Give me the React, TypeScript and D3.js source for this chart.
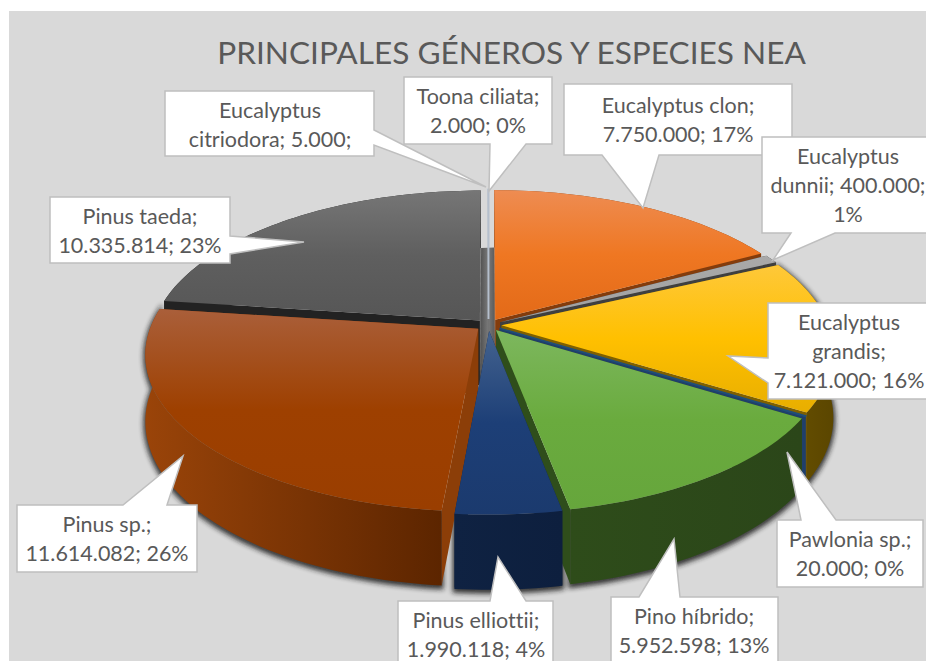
import * as d3 from 'd3';

// values as printed in the data labels, clockwise from 12 o'clock
const species = ['Eucalyptus clon', 'Eucalyptus dunnii', 'Eucalyptus grandis', 'Pawlonia sp.', 'Pino híbrido', 'Pinus elliottii', 'Pinus sp.', 'Pinus taeda', 'Eucalyptus citriodora', 'Toona ciliata'];
const hectares = [7750000, 400000, 7121000, 20000, 5952598, 1990118, 11614082, 10335814, 5000, 2000];

const topLight = ['#EE8C52', '#A9A9A9', '#FEC83A', '#1F4E79', '#7DB75E', '#44638F', '#AA5F3A', '#767676', '#B5BFCC', '#A9B6C8'];
const topBase = ['#EF7722', '#A5A5A5', '#FFC000', '#1F4E79', '#6AAB3E', '#1D3F77', '#9E4000', '#5F5F5F', '#B5BFCC', '#A9B6C8'];
const topDark = ['#E36A18', '#A0A0A0', '#E8AE00', '#1F4E79', '#66A63C', '#1B3A6E', '#9A3E00', '#565656', '#B5BFCC', '#A9B6C8'];
const rimLeft = ['#843C0C', '#3F3F3F', '#6A5200', '#1F3F6B', '#2E4C1A', '#0F2242', '#9A4409', '#222222', '#777777', '#777777'];
const rimRight = ['#843C0C', '#3F3F3F', '#5B4600', '#1F3F6B', '#2B4619', '#0D1F3E', '#5C2500', '#222222', '#777777', '#777777'];
const cutFace = ['#843C0C', '#3F3F3F', '#7F6000', '#1F3F6B', '#2F4E1B', '#0F2242', '#8C3E08', '#222222', '#666666', '#666666'];

const labelLines = [
  ['Eucalyptus clon;', '7.750.000; 17%'],
  ['Eucalyptus', 'dunnii; 400.000;', '1%'],
  ['Eucalyptus', 'grandis;', '7.121.000; 16%'],
  ['Pawlonia sp.;', '20.000; 0%'],
  ['Pino híbrido;', '5.952.598; 13%'],
  ['Pinus elliottii;', '1.990.118; 4%'],
  ['Pinus sp.;', '11.614.082; 26%'],
  ['Pinus taeda;', '10.335.814; 23%'],
  ['Eucalyptus', 'citriodora; 5.000;'],
  ['Toona ciliata;', '2.000; 0%'],
];

// callout boxes: box, side the pointer leaves from, pointer base and tip
type Callout = { x0: number; y0: number; x1: number; y1: number; side: string; base: number[]; tip: number[]; cx: number; firstLine: number };
const callouts: Callout[] = [
  { x0: 564, y0: 84, x1: 792, y1: 155, side: 'bottom', base: [602, 659], tip: [643, 208], cx: 678, firstLine: 113 },
  { x0: 762, y0: 137, x1: 932, y1: 233, side: 'bottom', base: [791, 835], tip: [773, 260], cx: 848, firstLine: 164 },
  { x0: 768, y0: 303, x1: 932, y1: 399, side: 'left', base: [358, 383], tip: [728, 356], cx: 849, firstLine: 330 },
  { x0: 777, y0: 520, x1: 923, y1: 587, side: 'top', base: [801, 836], tip: [787, 452], cx: 850, firstLine: 547 },
  { x0: 611, y0: 597, x1: 778, y1: 668, side: 'top', base: [639, 680], tip: [674, 539], cx: 694, firstLine: 624 },
  { x0: 398, y0: 601, x1: 553, y1: 668, side: 'top', base: [490, 526], tip: [498, 557], cx: 476, firstLine: 628 },
  { x0: 17, y0: 505, x1: 197, y1: 572, side: 'top', base: [123, 167], tip: [183, 456], cx: 107, firstLine: 532 },
  { x0: 50, y0: 197, x1: 230, y1: 263, side: 'right', base: [236, 254], tip: [304, 242], cx: 140, firstLine: 224 },
  { x0: 165, y0: 91, x1: 374, y1: 156, side: 'right', base: [130, 145], tip: [486, 187], cx: 270, firstLine: 118 },
  { x0: 404, y0: 77, x1: 552, y1: 144, side: 'bottom', base: [490, 526], tip: [489, 191], cx: 478, firstLine: 104 },
];

const width = 926;
const height = 661;
const fontFamily = 'Lato, sans-serif';
const textColor = '#595959';

const center = { x: 488.5, y: 325 };
const radiusX = 327;
const radiusY = 152;
const perspective = 0.16;
const explode = 0.04;
const thickness = 65;

const pie = d3.pie<number>().sort(null).startAngle(0).endAngle(2 * Math.PI);
const arcs = pie(hectares);

// ground plane -> screen, depth 0 is the top face, 1 the bottom face
function project(theta: number, r: number, mid: number, depth = 0): [number, number] {
  const u = explode * Math.sin(mid) + r * Math.sin(theta);
  const v = explode * Math.cos(mid) + r * Math.cos(theta);
  const s = 1 / (1 + perspective * v);
  return [
    center.x + radiusX * u * s,
    center.y - radiusY * v * s + depth * thickness * Math.pow(s, 0.8),
  ];
}

const line = d3.line();
const closed = (pts: [number, number][]) => line(pts) + 'Z';

function sweep(a0: number, a1: number) {
  const n = Math.max(2, Math.ceil(Math.abs(a1 - a0) * 40));
  return d3.range(n + 1).map(i => a0 + ((a1 - a0) * i) / n);
}

const slices = arcs.map((arc, i) => {
  const a0 = arc.startAngle;
  const a1 = arc.endAngle;
  const mid = (a0 + a1) / 2;
  const angles = sweep(a0, a1);
  const rimTop = angles.map(a => project(a, 1, mid));
  const rimBottom = angles.map(a => project(a, 1, mid, 1)).reverse();
  return {
    i,
    mid,
    tiny: arc.value < 30000,
    top: closed([project(0, 0, mid), ...rimTop]),
    rim: closed([...rimTop, ...rimBottom]),
    cutStart: closed([project(0, 0, mid), project(a0, 1, mid), project(a0, 1, mid, 1), project(0, 0, mid, 1)]),
    cutEnd: closed([project(0, 0, mid), project(a1, 1, mid), project(a1, 1, mid, 1), project(0, 0, mid, 1)]),
  };
});

// painter's order, far slices first
const drawOrder = d3.sort(slices, d => -Math.cos(d.mid));

// dark inner wall seen through the gap at the back of the pie
const clon = arcs[0];
const taeda = arcs[7];
const clonMid = (clon.startAngle + clon.endAngle) / 2;
const taedaMid = (taeda.startAngle + taeda.endAngle) / 2;
const gapPath = closed([
  project(0, 1, taedaMid, 1),
  project(0, 1, clonMid, 1),
  project(0, 0, clonMid, 1),
  project(0, 0, taedaMid, 1),
]);

function calloutPath(c: Callout) {
  const { x0, y0, x1, y1, base, tip } = c;
  const pts: [number, number][] = [[x0, y0]];
  if (c.side === 'top') pts.push([base[0], y0], [tip[0], tip[1]], [base[1], y0]);
  pts.push([x1, y0]);
  if (c.side === 'right') pts.push([x1, base[0]], [tip[0], tip[1]], [x1, base[1]]);
  pts.push([x1, y1]);
  if (c.side === 'bottom') pts.push([base[1], y1], [tip[0], tip[1]], [base[0], y1]);
  pts.push([x0, y1]);
  if (c.side === 'left') pts.push([x0, base[1]], [tip[0], tip[1]], [x0, base[0]]);
  return closed(pts);
}

export default function App() {
  return (
    <svg width={width} height={height} style={{ position: 'absolute', left: 0, top: 0, display: 'block', fontVariantLigatures: 'none' }}>
      <defs>
        {slices.map(s => (
          <linearGradient key={s.i} id={`top${s.i}`} x1="0" y1="0" x2="0" y2="1">
            <stop offset="0" stopColor={topLight[s.i]} />
            <stop offset="0.5" stopColor={topBase[s.i]} />
            <stop offset="1" stopColor={topDark[s.i]} />
          </linearGradient>
        ))}
        {slices.map(s => (
          <linearGradient key={s.i} id={`rim${s.i}`} x1="0" y1="0" x2="1" y2="0">
            <stop offset="0" stopColor={rimLeft[s.i]} />
            <stop offset="1" stopColor={rimRight[s.i]} />
          </linearGradient>
        ))}
        <linearGradient id="gap" x1="0" y1="0" x2="1" y2="0">
          <stop offset="0" stopColor="#4F4F4F" />
          <stop offset="0.55" stopColor="#7A7A7A" />
          <stop offset="1" stopColor="#585858" />
        </linearGradient>
        <filter id="soft" x="-10%" y="-10%" width="120%" height="120%">
          <feGaussianBlur stdDeviation="2.5" />
        </filter>
      </defs>

      <rect x={9} y={11} width={width - 9} height={height - 11} fill="#D9D9D9" />

      <text x={511.5} y={64} textAnchor="middle" fontFamily={fontFamily} fontSize={31.6} fill={textColor}>
        PRINCIPALES GÉNEROS Y ESPECIES NEA
      </text>

      <g filter="url(#soft)" transform="translate(0,2)" opacity={0.85}>
        {slices.filter(s => Math.cos(s.mid) < 0.2).map(s => (
          <path key={s.i} d={s.rim} fill="#1A1A1A" stroke="#1A1A1A" strokeWidth={4} />
        ))}
      </g>

      <path d={gapPath} fill="url(#gap)" />

      {drawOrder.map(s => (
        <g key={s.i}>
          <path d={s.cutStart} fill={cutFace[s.i]} />
          <path d={s.cutEnd} fill={cutFace[s.i]} />
          <path d={s.rim} fill={`url(#rim${s.i})`} />
          <path
            d={s.top}
            fill={`url(#top${s.i})`}
            stroke={s.tiny ? topBase[s.i] : 'none'}
            strokeWidth={s.tiny ? 1.5 : 0}
          />
        </g>
      ))}

      {callouts.map((c, i) => (
        <g key={species[i]}>
          <path d={calloutPath(c)} fill="#FFFFFF" stroke="#BFBFBF" strokeWidth={1.5} />
          <text textAnchor="middle" fontFamily={fontFamily} fontSize={21.5} fill={textColor}>
            {labelLines[i].map((t, j) => (
              <tspan key={j} x={c.cx} y={c.firstLine + j * 29}>{t}</tspan>
            ))}
          </text>
        </g>
      ))}
    </svg>
  );
}
